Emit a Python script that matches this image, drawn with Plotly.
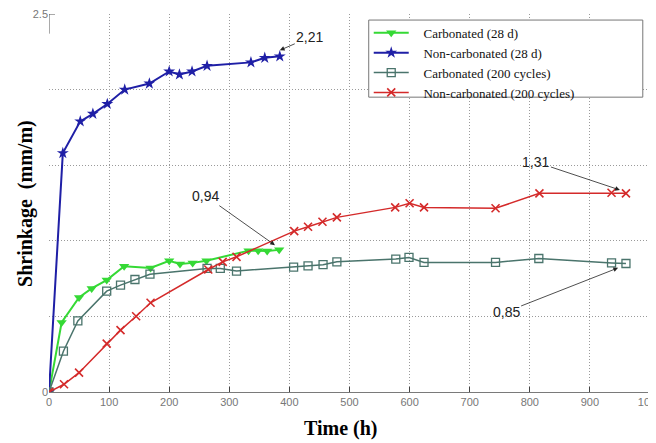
import plotly.graph_objects as go

# ---- data ----
carb28_t = [0, 21, 50, 71, 96, 125, 169, 200, 218, 239, 262, 332, 348, 363, 383]
carb28_v = [0, 0.46, 0.625, 0.685, 0.74, 0.832, 0.82, 0.868, 0.846, 0.854, 0.868, 0.935, 0.935, 0.932, 0.94]

ncarb28_t = [0, 23, 52, 73, 97, 126, 167, 200, 217, 238, 263, 336, 359, 384]
ncarb28_v = [0, 1.58, 1.79, 1.84, 1.905, 2.0, 2.04, 2.12, 2.10, 2.12, 2.157, 2.18, 2.21, 2.22]

carb200_t = [0, 24, 48, 96, 119, 143, 168, 263, 285, 312, 407, 431, 456, 479, 577, 599, 624, 743, 815, 936, 960]
carb200_v = [0, 0.27, 0.47, 0.667, 0.707, 0.744, 0.779, 0.817, 0.817, 0.80, 0.826, 0.834, 0.842, 0.861, 0.879, 0.89, 0.857, 0.857, 0.883, 0.854, 0.85]

ncarb200_t = [0, 25, 50, 96, 119, 145, 169, 265, 289, 312, 408, 431, 455, 479, 576, 600, 624, 743, 816, 936, 960]
ncarb200_v = [0, 0.051, 0.128, 0.32, 0.409, 0.501, 0.59, 0.81, 0.861, 0.894, 1.064, 1.093, 1.126, 1.155, 1.221, 1.248, 1.221, 1.215, 1.314, 1.318, 1.314]

x_ticks = [0, 100, 200, 300, 400, 500, 600, 700, 800, 900, 1000]
y_ticks = [0, 0.5, 1.0, 1.5, 2.0, 2.5]
y_ticktext = ["0", "", "", "", "", "2.5"]

series_names = ["Carbonated (28 d)", "Non-carbonated (28 d)",
                "Carbonated (200 cycles)", "Non-carbonated (200 cycles)"]

# callouts: label, x, y (arrow tip), ax, ay (pixel offset of label)
callouts = [
    ("2,21", 384, 2.26, 30, -13),
    ("1,31", 950, 1.336, -84, -28),
    ("0,94", 376, 0.971, -69, -49),
    ("0,85", 947, 0.821, -112, 44),
]

GREEN = "#35d935"
BLUE = "#1f1fa6"
TEAL = "#4a746c"
RED = "#d42a2a"
PAD = "\u00a0\u00a0\u00a0"

fig = go.Figure()
fig.add_trace(go.Scatter(x=carb28_t, y=carb28_v, name=PAD + series_names[0], mode="lines+markers",
                         line=dict(color=GREEN, width=2),
                         marker=dict(symbol="triangle-down", size=9, color=GREEN)))
fig.add_trace(go.Scatter(x=ncarb28_t, y=ncarb28_v, name=PAD + series_names[1], mode="lines+markers",
                         line=dict(color=BLUE, width=2),
                         marker=dict(symbol="star", size=9, color=BLUE)))
fig.add_trace(go.Scatter(x=carb200_t, y=carb200_v, name=PAD + series_names[2], mode="lines+markers",
                         line=dict(color=TEAL, width=1.5),
                         marker=dict(symbol="square-open", size=8, color=TEAL, line=dict(width=1.3))))
fig.add_trace(go.Scatter(x=ncarb200_t, y=ncarb200_v, name=PAD + series_names[3], mode="lines+markers",
                         line=dict(color=RED, width=1.5),
                         marker=dict(symbol="x-thin", size=8, color=RED, line=dict(width=1.6, color=RED))))

for txt, x, y, ax, ay in callouts:
    fig.add_annotation(x=x, y=y, xref="x", yref="y", text=txt, showarrow=True,
                       ax=ax, ay=ay, arrowhead=2, arrowsize=1.2, arrowwidth=0.8,
                       arrowcolor="#222", font=dict(family="Liberation Sans, Arial, sans-serif",
                                                    size=14, color="#222"))

fig.add_annotation(x=0.486, y=-0.097, xref="paper", yref="paper", text="<b>Time (h)</b>",
                   showarrow=False, xanchor="center", yanchor="middle",
                   font=dict(family="Liberation Serif, Times New Roman, serif", size=20, color="#000"))
fig.add_annotation(x=-0.04, y=0.5, xref="paper", yref="paper", text="<b>Shrinkage  (mm/m)</b>",
                   showarrow=False, xanchor="center", yanchor="middle", textangle=-90,
                   font=dict(family="Liberation Serif, Times New Roman, serif", size=20, color="#000"))

# short left axis stub near the top
fig.add_shape(type="line", xref="x", yref="y", x0=0, x1=0, y0=2.5, y1=2.37,
              line=dict(color="#555", width=1))
fig.add_shape(type="line", xref="x", yref="y", x0=0, x1=10, y0=2.5, y1=2.5,
              line=dict(color="#555", width=1))
# legend frame
fig.add_shape(type="rect", xref="paper", yref="paper", x0=0.532, x1=0.988, y0=0.780, y1=0.984,
              line=dict(color="#777", width=1), fillcolor="white", layer="above")

fig.update_xaxes(range=[0, 1000], tickvals=x_ticks, showgrid=True, gridcolor="#9a9a9a",
                 griddash="1px,2px", gridwidth=1, zeroline=False, showline=True, linecolor="#7a7a7a",
                 linewidth=1, ticks="inside", ticklen=5, tickcolor="#444", automargin=False,
                 ticklabeloverflow="allow",
                 tickfont=dict(family="Liberation Sans Narrow, Arial Narrow, sans-serif", size=11, color="#777"))
fig.update_yaxes(range=[0, 2.5], tickvals=y_ticks, ticktext=y_ticktext, showgrid=True,
                 gridcolor="#9a9a9a", griddash="1px,2px", gridwidth=1, zeroline=False, showline=False,
                 ticks="", automargin=False, ticklabeloverflow="allow",
                 tickfont=dict(family="Liberation Sans Narrow, Arial Narrow, sans-serif", size=11, color="#777"))

# page body has an 8px default margin, so margins are offset to land the plot where the reference has it
fig.update_layout(
    width=656, height=443,
    margin=dict(l=41, r=14, t=6, b=59, autoexpand=False),
    paper_bgcolor="white", plot_bgcolor="white",
    showlegend=True,
    legend=dict(x=0.532, y=0.99, xanchor="left", yanchor="top",
                bgcolor="rgba(0,0,0,0)", borderwidth=0,
                font=dict(family="Liberation Serif, Times New Roman, serif", size=13, color="#111"),
                tracegroupgap=0, itemwidth=35),
)

fig.write_html("out.html")
